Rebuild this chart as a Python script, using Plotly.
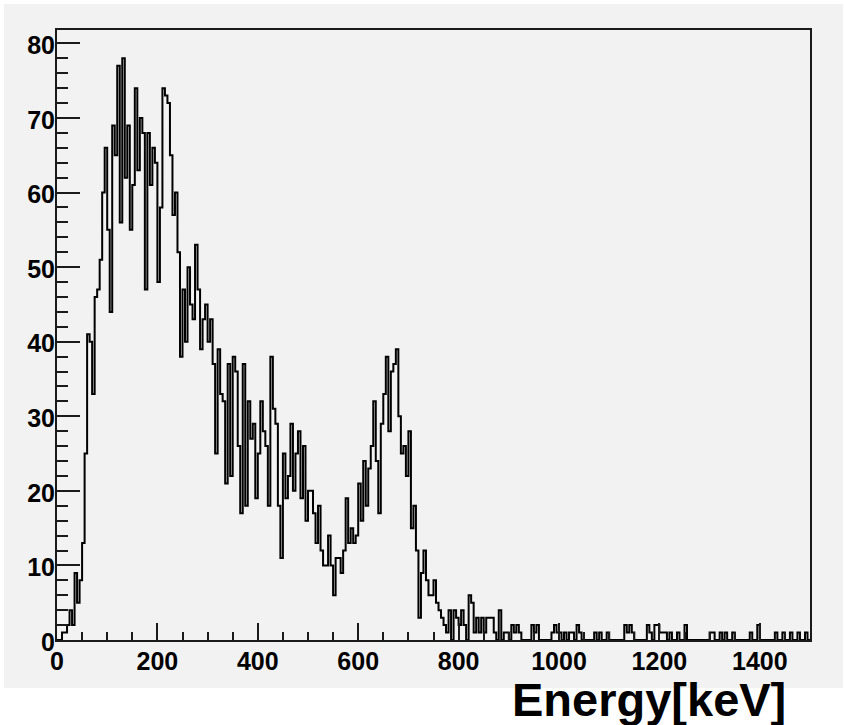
import numpy as np
import plotly.graph_objects as go

# Histogram: 300 bins of 5 keV from 0 to 1500 keV
bin_width_kev = 5
n_bins = 300
counts = [
    0, 0, 1, 1, 2, 4, 2, 9, 5, 8,            # 0-9
    13, 25, 41, 40, 33, 46, 47, 51, 60, 66,  # 10-19
    55, 44, 69, 65, 77, 56, 78, 62, 69, 55,  # 20-29
    61, 74, 63, 70, 68, 47, 68, 61, 66, 64,  # 30-39
    48, 58, 74, 73, 72, 65, 57, 60, 52, 38,  # 40-49
    47, 40, 50, 45, 43, 53, 47, 39, 43, 45,  # 50-59
    40, 43, 37, 25, 39, 33, 32, 21, 37, 22,  # 60-69
    38, 36, 26, 17, 37, 18, 32, 27, 29, 19,  # 70-79
    25, 32, 28, 26, 18, 38, 31, 29, 18, 11,  # 80-89
    25, 19, 22, 29, 20, 25, 28, 19, 26, 16,  # 90-99
    20, 20, 17, 13, 18, 12, 10, 10, 14, 10,  # 100-109
    6, 11, 11, 9, 12, 19, 13, 15, 13, 14,    # 110-119
    21, 16, 24, 18, 23, 26, 32, 24, 17, 29,  # 120-129
    33, 38, 28, 36, 37, 39, 30, 25, 26, 22,  # 130-139
    28, 15, 18, 12, 3, 9, 12, 8, 6, 6,       # 140-149
    8, 5, 4, 3, 2, 1, 4, 0, 4, 3,            # 150-159
    2, 4, 2, 0, 6, 5, 1, 3, 1, 3,            # 160-169
    1, 3, 3, 3, 1, 0, 4, 0, 1, 1,            # 170-179
    0, 2, 1, 2, 1, 0, 0, 0, 0, 2,            # 180-189
    1, 2, 0, 0, 0, 0, 0, 1, 2, 1,            # 190-199
    1, 0, 1, 0, 1, 1, 0, 2, 1, 0,            # 200-209
    0, 0, 0, 0, 1, 0, 1, 0, 0, 1,            # 210-219
    0, 0, 0, 0, 0, 0, 2, 1, 2, 1,            # 220-229
    0, 0, 0, 0, 0, 2, 1, 0, 2, 2,            # 230-239
    1, 1, 1, 0, 1, 0, 0, 1, 0, 0,            # 240-249
    2, 0, 0, 0, 0, 0, 0, 0, 0, 0,            # 250-259
    1, 1, 0, 0, 1, 0, 1, 0, 0, 1,            # 260-269
    0, 0, 0, 0, 0, 0, 1, 0, 0, 2,            # 270-279
    0, 0, 0, 0, 0, 0, 1, 0, 0, 1,            # 280-289
    0, 0, 1, 0, 0, 1, 0, 0, 1, 0,            # 290-299
]

x_tick_vals = [0, 200, 400, 600, 800, 1000, 1200, 1400]
y_tick_vals = [0, 10, 20, 30, 40, 50, 60, 70, 80]
x_title = "Energy[keV]"

edges = np.arange(n_bins + 1) * bin_width_kev
y_step = list(counts) + [counts[-1]]

FONT = "Liberation Sans"
W, H = 844, 725
L, R, T, B = 57, 810, 30, 640  # plot area in pixels
pw, ph = R - L, B - T

def px_to_paper_x(px):
    return (px - L) / pw

def py_to_paper_y(py):
    return (B - py) / ph

fig = go.Figure()
fig.add_trace(go.Scatter(
    x=edges, y=y_step, mode="lines", line=dict(shape="hv", color="#000000", width=2),
    showlegend=False, hoverinfo="skip",
))

fig.update_layout(
    width=W, height=H,
    margin=dict(l=L, r=W - R, t=T, b=H - B, pad=0),
    paper_bgcolor="#ffffff",
    plot_bgcolor="#f2f2f2",
    showlegend=False,
    shapes=[dict(
        type="rect", xref="paper", yref="paper", layer="below",
        x0=px_to_paper_x(4), x1=px_to_paper_x(843),
        y0=py_to_paper_y(688), y1=py_to_paper_y(4),
        fillcolor="#f2f2f2", line=dict(width=0),
    )],
    annotations=[dict(
        text=x_title, xref="paper", yref="paper",
        x=px_to_paper_x(788), y=py_to_paper_y(699),
        xanchor="right", yanchor="middle", showarrow=False,
        font=dict(family=FONT, size=47, color="#000000", weight="bold"),
    )],
)

fig.update_xaxes(
    range=[0, 1500], showgrid=False, zeroline=False,
    showline=True, linecolor="#1a1a1a", linewidth=2, mirror=True,
    ticks="inside", tickvals=x_tick_vals, ticklen=17, tickwidth=1.5, tickcolor="#1a1a1a",
    minor=dict(ticks="inside", dtick=50, ticklen=8, tickwidth=1.5, tickcolor="#1a1a1a", showgrid=False),
    tickfont=dict(family=FONT, size=25, color="#000000", weight="bold"),
    ticklabelstandoff=-2,
)
fig.update_yaxes(
    range=[0, 81.8], showgrid=False, zeroline=False,
    showline=True, linecolor="#1a1a1a", linewidth=2, mirror=True,
    ticks="inside", tickvals=y_tick_vals, ticklen=23, tickwidth=1.5, tickcolor="#1a1a1a",
    minor=dict(ticks="inside", dtick=2, ticklen=11, tickwidth=1.5, tickcolor="#1a1a1a", showgrid=False),
    tickfont=dict(family=FONT, size=25, color="#000000", weight="bold"),
    ticklabelstandoff=-5, ticklabelshift=2,
)

fig.write_html("out.html")
